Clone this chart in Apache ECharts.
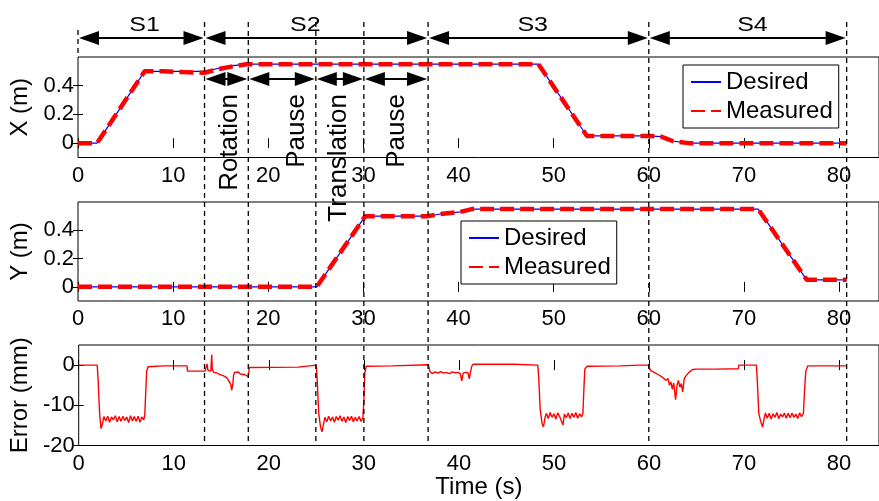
<!DOCTYPE html>
<html><head><meta charset="utf-8">
<script src="https://cdn.jsdelivr.net/npm/echarts@6/dist/echarts.min.js"></script>
<style>html,body{margin:0;padding:0;background:#fff}#c{width:879px;height:501px}</style>
</head><body><div id="c"></div>
<script>
// ---------- tick labels ----------
const timeTicks = [0, 10, 20, 30, 40, 50, 60, 70, 80];
const posTicks = [0, 0.2, 0.4];
const errTicks = [-20, -10, 0];

// ---------- X position (m) ----------
const xTime     = [0, 2, 7, 13.3, 14.7, 16.3, 17.7, 48.4, 53.5, 60, 61.3, 62.5, 64.2, 80.8];
const xDesired  = [0, 0, 0.5, 0.5, 0.52, 0.54, 0.55, 0.55, 0.05, 0.05, 0.045, 0.015, 0, 0];
const xMeasTime = [0, 2, 7, 9, 11, 13.3, 14.7, 16.3, 17.7, 48.4, 53.5, 60, 61.3, 62.5, 64.2, 80.8];
const xMeasured = [0, 0, 0.5, 0.5, 0.495, 0.49, 0.515, 0.535, 0.55, 0.55, 0.05, 0.05, 0.045, 0.015, 0, 0];

// ---------- Y position (m) ----------
const yTime     = [0, 25.1, 30.2, 36.8, 38.1, 40.2, 41.4, 71.5, 76.6, 80.8];
const yDesired  = [0, 0, 0.5, 0.5, 0.515, 0.53, 0.55, 0.55, 0.05, 0.05];
const yMeasured = [0, 0, 0.5, 0.5, 0.515, 0.53, 0.55, 0.55, 0.05, 0.05];

// ---------- Error (mm): [time, value] ----------
const errorData = [
 [0,0],[1.95,0],[2.05,-4],[2.2,-12],[2.35,-15.8],[2.5,-14.6],[2.65,-12.8],[2.85,-13.9],[3.05,-12.7],[3.25,-14.2],
 [3.45,-12.9],[3.65,-13.6],[3.85,-12.6],[4.05,-14.1],[4.25,-12.8],[4.45,-14.0],[4.65,-12.7],[4.85,-13.8],[5.05,-12.9],
 [5.25,-14.3],[5.45,-12.6],[5.65,-13.9],[5.85,-12.8],[6.05,-14.0],[6.25,-12.7],[6.45,-14.2],[6.65,-12.9],[6.85,-13.6],
 [6.95,-12.4],[7.05,-7],[7.15,-1.6],[7.3,-0.4],[9,-0.2],[11.4,-0.2],[11.45,-1.5],[13.3,-1.5],
 [13.4,-0.6],[13.5,0.3],[13.6,-1.3],[13.9,-1.5],[14.0,2.6],[14.05,-1.0],[14.2,-1.8],[14.5,-1.9],[14.8,-2.3],[15.0,-2.0],
 [15.2,-2.6],[15.4,-2.4],[15.6,-3.2],[15.8,-3.6],[16.0,-4.8],[16.1,-6.2],[16.2,-5],[16.3,-2.5],[16.4,-1.8],[16.6,-2.0],
 [16.8,-1.7],[17.0,-2.2],[17.2,-1.8],[17.5,-2.4],[17.7,-2.1],[17.85,-2.9],[17.95,-0.6],[23.1,-0.5],[23.15,-0.1],[25.0,0],
 [25.1,-4],[25.25,-12],[25.45,-15.5],[25.6,-16.6],[25.75,-14.8],[25.9,-13.0],[26.1,-14.1],[26.3,-12.7],[26.5,-13.9],
 [26.7,-12.9],[26.9,-14.2],[27.1,-12.8],[27.3,-13.7],[27.5,-12.6],[27.7,-14.0],[27.9,-12.9],[28.1,-14.3],[28.3,-12.8],
 [28.5,-13.8],[28.7,-12.7],[28.9,-14.1],[29.1,-13.0],[29.3,-13.9],[29.5,-12.8],[29.7,-14.0],[29.9,-13.1],[30.0,-9],
 [30.1,-2],[30.25,-0.3],[33,-0.2],[36.8,0.1],
 [36.85,-0.5],[36.95,-1.6],[37.2,-2.1],[37.5,-1.7],[37.8,-2.0],[38.1,-1.6],[38.4,-2.0],[38.7,-1.8],[39.0,-2.1],
 [39.3,-1.7],[39.6,-1.9],[39.9,-1.8],[40.15,-2.2],[40.3,-3.9],[40.45,-2.0],[40.7,-1.8],[40.95,-1.9],[41.1,-3.4],
 [41.2,-2.0],[41.35,-0.3],[41.5,0.2],[45.8,0.2],[45.9,0],[48.3,0],
 [48.4,-3],[48.55,-11],[48.75,-14.5],[48.9,-15.4],[49.05,-13.2],[49.2,-12.0],[49.4,-13.3],[49.6,-11.8],[49.8,-13.0],
 [50.0,-12.1],[50.2,-13.4],[50.4,-11.9],[50.6,-12.8],[50.8,-13.2],[50.95,-14.9],[51.1,-12.2],[51.3,-13.1],[51.5,-11.9],
 [51.7,-13.3],[51.9,-12.0],[52.1,-13.0],[52.3,-11.8],[52.5,-13.2],[52.7,-12.1],[52.9,-12.9],[53.05,-11.9],[53.15,-6],
 [53.25,-1],[53.5,-0.3],[57,-0.2],[59,0],[60,0],
 [60.05,-0.8],[60.2,-1.4],[60.4,-1.1],[60.6,-1.9],[60.8,-1.5],[61.0,-2.4],[61.2,-2.0],[61.4,-3.0],[61.6,-2.6],
 [61.8,-3.8],[62.0,-3.3],[62.15,-5.0],[62.3,-4.2],[62.45,-6.0],[62.6,-4.5],[62.8,-8.6],[62.95,-5.0],[63.1,-3.8],
 [63.25,-5.5],[63.4,-4.6],[63.55,-6.7],[63.7,-3.5],[63.85,-2.8],[64.0,-3.0],[64.2,-1.8],[64.4,-1.6],[64.6,-1.1],
 [65,-1.0],[67,-1.0],[69.4,-0.9],[69.45,0],[71.3,0],
 [71.4,-4],[71.55,-12],[71.75,-14],[71.95,-15.4],[72.1,-13.5],[72.25,-11.9],[72.45,-13.2],[72.65,-12.0],[72.85,-13.4],
 [73.05,-12.1],[73.25,-13.0],[73.45,-11.8],[73.65,-13.3],[73.85,-12.2],[74.05,-12.9],[74.25,-11.9],[74.45,-13.2],
 [74.65,-12.0],[74.85,-13.1],[75.05,-11.9],[75.25,-13.0],[75.45,-12.2],[75.65,-13.3],[75.85,-11.9],[76.05,-12.8],
 [76.25,-12.0],[76.35,-7],[76.5,-1.5],[76.7,-0.2],[80.8,-0.2]
];

// ---------- annotations ----------
const boundaries   = [13.3, 17.9, 25.0, 30.05, 36.8, 60.0, 80.8];
const stageNames   = ['S1', 'S2', 'S3', 'S4'];
const stageEdges   = [0, 13.3, 36.8, 60.0, 80.8];
const stageLabelAt = [7.0, 23.9, 47.8, 70.9];
const phaseNames   = ['Rotation', 'Pause', 'Translation', 'Pause'];
const phaseEdges   = [13.3, 17.9, 25.0, 30.05, 36.8];
const phaseLabelAt = [16.0, 23.0, 27.4, 33.5];

const FONT = "'Liberation Sans', Arial, sans-serif";
const zip = (a, b) => a.map((v, i) => [v, b[i]]);

const grids = [
  {left: 78, top: 57, width: 802, height: 100.5},
  {left: 78, top: 202, width: 802, height: 99},
  {left: 78, top: 345, width: 802, height: 100.5}
];
const yRanges = [[-0.1, 0.6], [-0.1, 0.6], [-20, 5]];
const yTicks = [posTicks, posTicks, errTicks];
const yNames = ['X (m)', 'Y (m)', 'Error (mm)'];

const xAxes = [], yAxes = [];
grids.forEach((g, gi) => {
  const base = {
    gridIndex: gi, type: 'value', min: 0, max: 84.2,
    axisLine: {show: false}, splitLine: {show: false},
    axisTick: {inside: true, length: 5, customValues: timeTicks, lineStyle: {color: '#000', width: 1}}
  };
  xAxes.push(Object.assign({}, base, {
    position: 'bottom',
    axisLabel: {customValues: timeTicks, fontSize: 22, color: '#000', margin: 7, fontFamily: FONT},
    name: gi === 2 ? 'Time (s)' : '', nameLocation: 'middle', nameGap: 27,
    nameTextStyle: {fontSize: 24, color: '#000', fontFamily: FONT}
  }));
  xAxes.push(Object.assign({}, base, {position: 'top', axisLabel: {show: false}}));
  const ybase = {
    gridIndex: gi, type: 'value', min: yRanges[gi][0], max: yRanges[gi][1],
    axisLine: {show: false}, splitLine: {show: false},
    axisTick: {inside: true, length: 5, customValues: yTicks[gi], lineStyle: {color: '#000', width: 1}}
  };
  yAxes.push(Object.assign({}, ybase, {
    position: 'left',
    axisLabel: {customValues: yTicks[gi], fontSize: 22, color: '#000', margin: 4, fontFamily: FONT},
    name: yNames[gi], nameLocation: 'middle', nameGap: 39,
    nameTextStyle: {fontSize: 24, color: '#000', fontFamily: FONT}
  }));
  yAxes.push(Object.assign({}, ybase, {position: 'right', axisLabel: {show: false}}));
});

const desiredStyle = {color: '#0000ff', width: 1.2};
const measuredStyle = {color: '#ff0000', width: 4.5, type: [14, 6]};

const legendBase = {
  data: ['Desired', 'Measured'], orient: 'vertical',
  borderColor: '#000', borderWidth: 1, backgroundColor: '#fff',
  padding: [5, 6, 5, 7], itemGap: 5, itemWidth: 30, itemHeight: 14,
  selectedMode: false,
  itemStyle: {opacity: 0},
  textStyle: {fontSize: 24, color: '#000', fontFamily: FONT}
};

const chart = echarts.init(document.getElementById('c'), null, {renderer: 'canvas'});
chart.setOption({
  animation: false,
  backgroundColor: '#fff',
  textStyle: {fontFamily: FONT},
  grid: grids.map(g => Object.assign({show: true, borderColor: '#000', borderWidth: 1, backgroundColor: 'transparent'}, g)),
  xAxis: xAxes,
  yAxis: yAxes,
  legend: [
    Object.assign({left: 683, top: 65}, legendBase),
    Object.assign({left: 461, top: 221}, legendBase)
  ],
  series: [
    {type: 'line', name: 'Desired', xAxisIndex: 0, yAxisIndex: 0, data: zip(xTime, xDesired), symbol: 'none',
     lineStyle: desiredStyle, itemStyle: {color: '#0000ff'}, z: 2},
    {type: 'line', name: 'Measured', xAxisIndex: 0, yAxisIndex: 0, data: zip(xMeasTime, xMeasured), symbol: 'none',
     lineStyle: measuredStyle, itemStyle: {color: '#ff0000'}, z: 3},
    {type: 'line', name: 'Desired', xAxisIndex: 2, yAxisIndex: 2, data: zip(yTime, yDesired), symbol: 'none',
     lineStyle: desiredStyle, itemStyle: {color: '#0000ff'}, z: 2},
    {type: 'line', name: 'Measured', xAxisIndex: 2, yAxisIndex: 2, data: zip(yTime, yMeasured), symbol: 'none',
     lineStyle: measuredStyle, itemStyle: {color: '#ff0000'}, z: 3},
    {type: 'line', name: 'Error', xAxisIndex: 4, yAxisIndex: 4, data: errorData, symbol: 'none',
     lineStyle: {color: '#ff0000', width: 1.4}, itemStyle: {color: '#ff0000'}, z: 3}
  ]
});

// ---------- annotation graphics ----------
const px = t => chart.convertToPixel({xAxisIndex: 0}, t);
const gfx = [];
const dash = (x, y1, y2) => gfx.push({type: 'line', silent: true, z: 50,
  shape: {x1: x, y1: y1, x2: x, y2: y2}, style: {stroke: '#000', lineWidth: 1.3, lineDash: [5, 4]}});
const arrow = (x1, x2, y) => {
  const L = 20, H = 7;
  gfx.push({type: 'line', silent: true, z: 50, shape: {x1: x1 + L - 2, y1: y, x2: x2 - L + 2, y2: y},
    style: {stroke: '#000', lineWidth: 2}});
  gfx.push({type: 'polygon', silent: true, z: 50, shape: {points: [[x1, y], [x1 + L, y - H], [x1 + L, y + H]]},
    style: {fill: '#000'}});
  gfx.push({type: 'polygon', silent: true, z: 50, shape: {points: [[x2, y], [x2 - L, y - H], [x2 - L, y + H]]},
    style: {fill: '#000'}});
};

dash(px(0), 30, 57);
boundaries.forEach(t => dash(px(t), 22, 446));
for (let i = 0; i < stageNames.length; i++) {
  arrow(px(stageEdges[i]) + 1, px(stageEdges[i + 1]) - 1, 38);
  gfx.push({type: 'text', silent: true, z: 50, x: px(stageLabelAt[i]), y: 25, scaleX: 1.25,
    style: {text: stageNames[i], fontSize: 20, fontFamily: FONT, fill: '#000', align: 'center', verticalAlign: 'middle'}});
}
for (let i = 0; i < phaseNames.length; i++) {
  arrow(px(phaseEdges[i]) + 1, px(phaseEdges[i + 1]) - 1, 79);
  gfx.push({type: 'text', silent: true, z: 50, x: px(phaseLabelAt[i]), y: 94, rotation: Math.PI / 2,
    style: {text: phaseNames[i], fontSize: 26, fontFamily: FONT, fill: '#000', align: 'right', verticalAlign: 'middle'}});
}
chart.setOption({graphic: gfx});
</script>
</body></html>
